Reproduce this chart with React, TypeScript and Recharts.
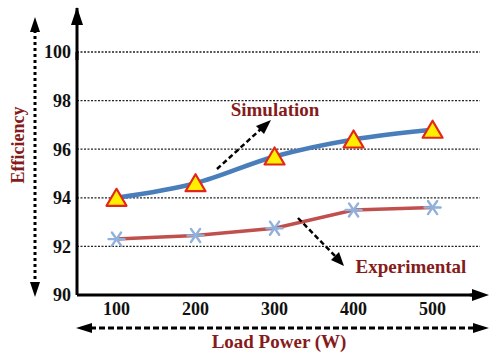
import { LineChart, Line, XAxis, YAxis, CartesianGrid } from "recharts";

const loads = [100, 200, 300, 400, 500];
const simulation = [94.0, 94.6, 95.7, 96.4, 96.8];
const experimental = [92.3, 92.45, 92.75, 93.5, 93.6];
const yTicks = [90, 92, 94, 96, 98, 100];

const data = loads.map((load, i) => ({
  load,
  simulation: simulation[i],
  experimental: experimental[i],
}));

const SERIF = "Liberation Serif, Times New Roman, serif";
const RED_TEXT = "#861b1b";

const Triangle = (props: any) => {
  const { cx, cy } = props;
  if (cx == null || cy == null) return null;
  return (
    <path
      d={`M${cx},${cy - 9} L${cx + 10},${cy + 8} L${cx - 10},${cy + 8} Z`}
      fill="#ffee00"
      stroke="#e2261b"
      strokeWidth={2.2}
      strokeLinejoin="round"
    />
  );
};

const Asterisk = (props: any) => {
  const { cx, cy } = props;
  if (cx == null || cy == null) return null;
  const r = 8;
  const arms = [0, 55, 125];
  return (
    <g stroke="#8fb1dc" strokeWidth={2.4} strokeLinecap="round">
      {arms.map((a) => {
        const dx = r * Math.cos((a * Math.PI) / 180);
        const dy = r * Math.sin((a * Math.PI) / 180);
        return <line key={a} x1={cx - dx} y1={cy - dy} x2={cx + dx} y2={cy + dy} />;
      })}
    </g>
  );
};

function Overlay() {
  return (
    <svg
      width={489}
      height={357}
      style={{ position: "absolute", left: 0, top: 0, pointerEvents: "none" }}
    >
      {/* axis extensions with arrowheads */}
      <line x1={77} y1={60} x2={77} y2={8} stroke="#000" strokeWidth={3} />
      <path d="M77,7 L71,25 L83,25 Z" fill="#000" />
      <line x1={470} y1={295} x2={478} y2={295} stroke="#000" strokeWidth={3} />
      <path d="M489,295 L472,289 L472,301 Z" fill="#000" />
      {/* efficiency dotted arrow */}
      <line x1={35} y1={30} x2={35} y2={282} stroke="#000" strokeWidth={3} strokeDasharray="3 3" />
      <path d="M35,17 L30,32 L40,32 Z" fill="#000" />
      <path d="M35,297 L30,282 L40,282 Z" fill="#000" />
      {/* load power dashed arrow */}
      <line x1={90} y1={328} x2={476} y2={328} stroke="#000" strokeWidth={3} strokeDasharray="6 3" />
      <path d="M76,328 L92,323 L92,333 Z" fill="#000" />
      <path d="M489,328 L473,323 L473,333 Z" fill="#000" />
      {/* annotation arrows */}
      <line x1={217} y1={169} x2={262} y2={128} stroke="#000" strokeWidth={2.5} strokeDasharray="5 3" />
      <path d="M271,120 L256,126 L264,134 Z" fill="#000" />
      <line x1={298} y1={218} x2={336} y2={257} stroke="#000" strokeWidth={2.5} strokeDasharray="5 3" />
      <path d="M344,266 L331,260 L339,252 Z" fill="#000" />
      {/* labels */}
      <text x={275} y={116} textAnchor="middle" fontFamily={SERIF} fontWeight="bold" fontSize={19} fill={RED_TEXT}>
        Simulation
      </text>
      <text x={411} y={273} textAnchor="middle" fontFamily={SERIF} fontWeight="bold" fontSize={19} fill={RED_TEXT}>
        Experimental
      </text>
      <text x={279} y={348} textAnchor="middle" fontFamily={SERIF} fontWeight="bold" fontSize={19} fill={RED_TEXT}>
        Load Power (W)
      </text>
      <text
        x={0}
        y={0}
        transform="translate(24,145) rotate(-90)"
        textAnchor="middle"
        fontFamily={SERIF}
        fontWeight="bold"
        fontSize={18}
        fill={RED_TEXT}
      >
        Efficiency
      </text>
    </svg>
  );
}

export default function App() {
  return (
    <div style={{ position: "absolute", left: 0, top: 0, width: 489, height: 357, background: "#fff" }}>
      <LineChart
        width={489}
        height={357}
        data={data}
        margin={{ top: 52, right: 9, bottom: 32, left: 17 }}
      >
        <CartesianGrid
          vertical={false}
          stroke="#222"
          strokeWidth={1.3}
          strokeDasharray="2 1.5"
        />
        <XAxis
          dataKey="load"
          type="number"
          domain={[50, 560]}
          ticks={loads}
          height={30}
          axisLine={{ stroke: "#000", strokeWidth: 3 }}
          tickLine={false}
          tickSize={0}
          tickMargin={7}
          tick={{ fill: "#111", fontFamily: SERIF, fontWeight: "bold", fontSize: 18 }}
        />
        <YAxis
          type="number"
          domain={[90, 100]}
          ticks={yTicks}
          width={60}
          axisLine={{ stroke: "#000", strokeWidth: 3 }}
          tickLine={false}
          tickSize={0}
          tickMargin={6}
          tick={{ fill: "#111", fontFamily: SERIF, fontWeight: "bold", fontSize: 18 }}
        />
        <Line
          type="linear"
          dataKey="experimental"
          stroke="#c0504d"
          strokeWidth={3.5}
          dot={<Asterisk />}
          isAnimationActive={false}
        />
        <Line
          type="monotone"
          dataKey="simulation"
          stroke="#4a7ebb"
          strokeWidth={4.5}
          dot={<Triangle />}
          isAnimationActive={false}
        />
      </LineChart>
      <Overlay />
    </div>
  );
}
